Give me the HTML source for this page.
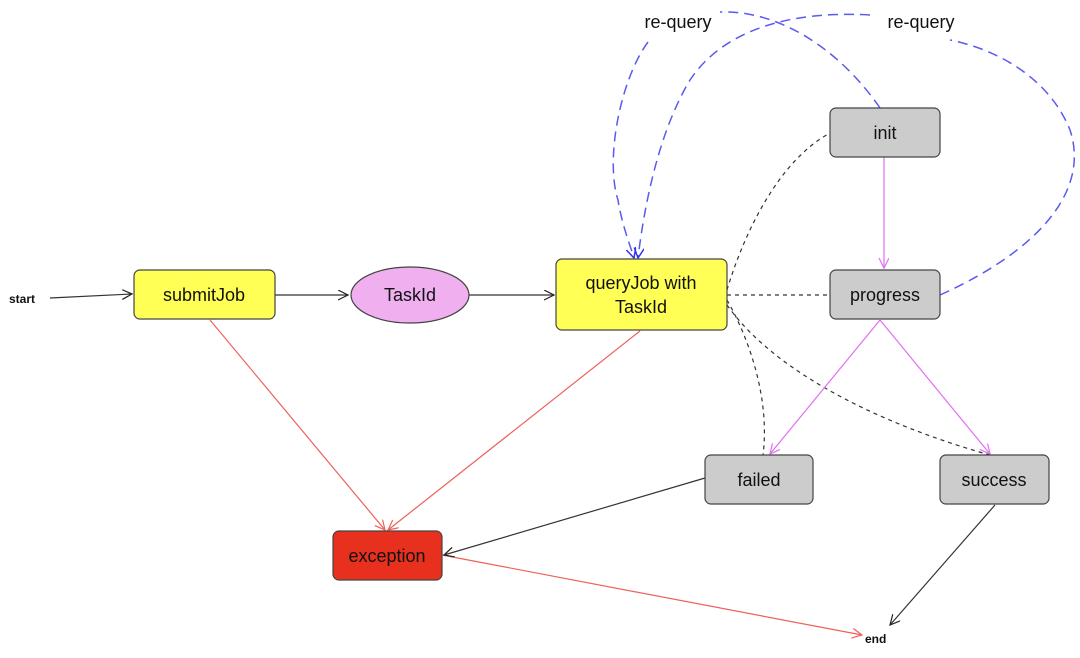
<!DOCTYPE html>
<html><head><meta charset="utf-8"><style>
body{margin:0;background:#fff;width:1080px;height:653px;overflow:hidden}
text{font-family:"Liberation Sans",sans-serif}
</style></head><body>
<svg width="1080" height="653" viewBox="0 0 1080 653" xmlns="http://www.w3.org/2000/svg">
<defs>
<marker id="ab" markerWidth="12" markerHeight="12" refX="10" refY="5" orient="auto" markerUnits="userSpaceOnUse"><path d="M0,0 L10,5 L0,10" fill="none" stroke="#222" stroke-width="1.2"/></marker>
<marker id="ar" markerWidth="12" markerHeight="12" refX="10" refY="5" orient="auto" markerUnits="userSpaceOnUse"><path d="M0,0 L10,5 L0,10" fill="none" stroke="#f0605a" stroke-width="1.2"/></marker>
<marker id="ap" markerWidth="12" markerHeight="12" refX="10" refY="5" orient="auto" markerUnits="userSpaceOnUse"><path d="M0,0 L10,5 L0,10" fill="none" stroke="#e070f0" stroke-width="1.2"/></marker>
<marker id="au" markerWidth="12" markerHeight="12" refX="10" refY="5" orient="auto" markerUnits="userSpaceOnUse"><path d="M0,0 L10,5 L0,10" fill="none" stroke="#3333ee" stroke-width="1.5"/></marker>
</defs>
<g fill="none" stroke="#5a5af0" stroke-width="1.5" stroke-dasharray="10,6">
<path d="M880,108 C840,50 780,10 720,12"/>
<path d="M648,42 C620,80 605,160 618,200 C622,225 630,245 634,258" marker-end="url(#au)"/>
<path d="M940,295 C1040,250 1090,190 1070,130 C1050,80 1000,50 950,40"/>
<path d="M870,15 C780,10 720,35 690,80 C660,130 645,200 638,258" marker-end="url(#au)"/>
</g>
<g fill="none" stroke="#333" stroke-width="1.2" stroke-dasharray="4,4">
<path d="M727,295 L830,295"/>
<path d="M727,290 C745,230 780,160 830,133"/>
<path d="M727,300 C750,340 770,400 763,455"/>
<path d="M727,305 C780,380 900,430 990,455"/>
</g>
<g fill="none" stroke-width="1.2">
<path d="M50,298 L132,294" stroke="#333" marker-end="url(#ab)"/>
<path d="M275,295 L348,295" stroke="#333" marker-end="url(#ab)"/>
<path d="M469,295 L554,295" stroke="#333" marker-end="url(#ab)"/>
<path d="M210,320 L385,530" stroke="#f0605a" marker-end="url(#ar)"/>
<path d="M640,331 L388,530" stroke="#f0605a" marker-end="url(#ar)"/>
<path d="M442,555 L862,635" stroke="#f0605a" marker-end="url(#ar)"/>
<path d="M705,478 L444,555" stroke="#333" marker-end="url(#ab)"/>
<path d="M995,505 L890,625" stroke="#333" marker-end="url(#ab)"/>
<path d="M884,157 L884,268" stroke="#e070f0" marker-end="url(#ap)"/>
<path d="M880,320 L770,454" stroke="#e070f0" marker-end="url(#ap)"/>
<path d="M880,320 L990,454" stroke="#e070f0" marker-end="url(#ap)"/>
</g>
<g stroke="#444" stroke-width="1.2">
<rect x="134" y="270" width="141" height="49" rx="6" fill="#ffff55"/>
<ellipse cx="410" cy="295" rx="59" ry="28" fill="#f0b0f0"/>
<rect x="556" y="259" width="171" height="71" rx="6" fill="#ffff55"/>
<rect x="830" y="108" width="110" height="49" rx="6" fill="#cccccc"/>
<rect x="830" y="270" width="110" height="49" rx="6" fill="#cccccc"/>
<rect x="705" y="455" width="108" height="49" rx="6" fill="#cccccc"/>
<rect x="940" y="455" width="109" height="49" rx="6" fill="#cccccc"/>
<rect x="333" y="531" width="109" height="49" rx="6" fill="#e8301e"/>
</g>
<g font-size="18" fill="#111" text-anchor="middle">
<text x="204" y="301">submitJob</text>
<text x="410" y="301">TaskId</text>
<text x="641" y="289">queryJob with</text>
<text x="641" y="313">TaskId</text>
<text x="885" y="139">init</text>
<text x="885" y="301">progress</text>
<text x="759" y="486">failed</text>
<text x="994" y="486">success</text>
<text x="387" y="562">exception</text>
<text x="678" y="28">re-query</text>
<text x="921" y="28">re-query</text>
</g>
<text x="9" y="303" font-size="12" font-weight="bold" fill="#111">start</text>
<text x="865" y="643" font-size="12" font-weight="bold" fill="#111">end</text>
</svg>
</body></html>
